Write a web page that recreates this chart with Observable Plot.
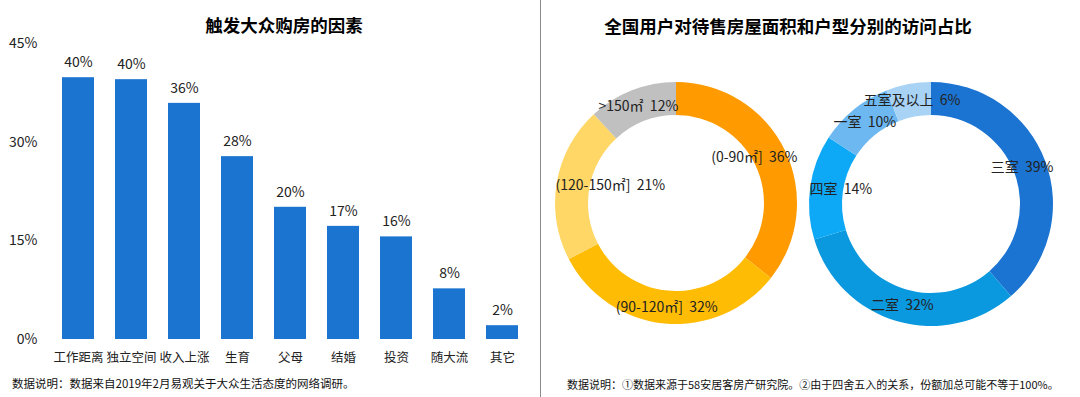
<!DOCTYPE html>
<html><head><meta charset="utf-8">
<script src="https://cdn.jsdelivr.net/npm/d3@7"></script>
<script src="https://cdn.jsdelivr.net/npm/@observablehq/plot@0.6"></script>
<style>
body{margin:0;background:#fff;font-family:"Noto Sans CJK SC","Noto Sans",sans-serif;}
#root{position:relative;width:1080px;height:397px;overflow:hidden;background:#fff;}
.abs{position:absolute;}
.title{font-weight:bold;font-size:17.5px;color:#000;white-space:nowrap;transform:translate(-50%,-50%);}
.foot{font-size:11px;color:#111;white-space:nowrap;transform:translateY(-50%);}
#divider{left:539.5px;top:0;width:1px;height:397px;background:#8a8a8a;}
</style></head><body>
<div id="root">
  <div id="bar" class="abs" style="left:0;top:30px"></div>
  <div id="d1" class="abs"></div>
  <div id="d2" class="abs"></div>
  <div class="abs title" style="left:284px;top:24px">触发大众购房的因素</div>
  <div class="abs title" style="left:788px;top:25px">全国用户对待售房屋面积和户型分别的访问占比</div>
  <div class="abs foot" style="left:12px;top:383px;font-size:11.5px">数据说明：数据来自2019年2月易观关于大众生活态度的网络调研。</div>
  <div class="abs foot" style="left:567px;top:384px">数据说明：①数据来源于58安居客房产研究院。②由于四舍五入的关系，份额加总可能不等于100%。</div>
  <div id="divider" class="abs"></div>
</div>
<script>
const factors = ["工作距离","独立空间","收入上涨","生育","父母","结婚","投资","随大流","其它"];
const factorValues = [39.8, 39.5, 35.9, 27.8, 20.1, 17.2, 15.6, 7.7, 2.1];
const yTicks = [0, 15, 30, 45];

const areaLabels = ["(0-90㎡]", "(90-120㎡]", "(120-150㎡]", ">150㎡"];
const areaValues = [36, 32, 21, 12];
const areaColors = ["#FF9B00", "#FFBC05", "#FFD766", "#C0C0C0"];

const roomLabels = ["三室", "二室", "四室", "一室", "五室及以上"];
const roomValues = [39, 32, 14, 10, 6];
const roomColors = ["#1B74D1", "#0A98DF", "#0EA9F6", "#6DB8F1", "#A8D3F5"];

const FONT = '"Noto Sans CJK SC","Noto Sans",sans-serif';

// Bar chart
const barData = factors.map((f, i) => ({f, v: factorValues[i]}));
const bar = Plot.plot({
  width: 540, height: 349,
  marginTop: 13, marginBottom: 40, marginLeft: 50, marginRight: 9.4,
  style: {fontFamily: FONT, fontSize: "14px", color: "#222", background: "transparent"},
  x: {domain: factors, paddingInner: 0.4, paddingOuter: 0.2, label: null},
  y: {domain: [0, 45], label: null},
  marks: [
    Plot.barY(barData, {x: "f", y: "v", fill: "#1B75D0"}),
    Plot.text(barData, {x: "f", y: "v", text: d => Math.round(d.v) + "%", dy: -15, fontSize: 14, fill: "#222"}),
    Plot.axisY({ticks: yTicks, tickSize: 0, tickPadding: 13, tickFormat: d => d + "%", fontSize: 14, label: null}),
    Plot.axisX({tickSize: 0, tickPadding: 14, fontSize: 12.5, label: null})
  ]
});
document.getElementById("bar").append(bar);

// Donuts
const canvas = document.createElement("canvas");
const ctx = canvas.getContext("2d");
ctx.font = `14px ${FONT}`;

function donut(labels, values, colors, R0, R1) {
  const size = 260, h = size / 2;
  const data = labels.map((l, i) => ({l, v: values[i], c: colors[i]}));
  const arcs = d3.pie().sort(null).value(d => d.v)(data);
  const mid = (R0 + R1) / 2;
  const labelData = arcs.map(a => {
    const ang = (a.startAngle + a.endAngle) / 2;
    let x = mid * Math.sin(ang), y = -mid * Math.cos(ang);
    const text = `${a.data.l}\u00a0\u00a0${a.data.v}%`;
    const w = ctx.measureText(text).width;
    const lim = R1 - w / 2;
    x = Math.max(-lim, Math.min(lim, x));
    return {x, y, text};
  });
  return Plot.plot({
    width: size, height: size, margin: 0,
    style: {fontFamily: FONT, fontSize: "14px", background: "transparent", overflow: "visible"},
    x: {domain: [-h, h], axis: null},
    y: {domain: [h, -h], axis: null},
    marks: [
      (index, scales) => {
        const sx = scales.x, sy = scales.y;
        const k = Math.abs(sx(1) - sx(0));
        const arc = d3.arc().innerRadius(R0 * k).outerRadius(R1 * k);
        const g = d3.create("svg:g").attr("transform", `translate(${sx(0)},${sy(0)})`);
        g.selectAll("path").data(arcs).join("path").attr("d", arc).attr("fill", d => d.data.c);
        return g.node();
      },
      Plot.text(labelData, {x: "x", y: "y", text: "text", fontSize: 14, fill: "#222"})
    ]
  });
}

const d1 = document.getElementById("d1");
d1.style.left = (676 - 130) + "px"; d1.style.top = (203 - 130) + "px";
d1.append(donut(areaLabels, areaValues, areaColors, 88, 121));
const d2 = document.getElementById("d2");
d2.style.left = (931 - 130) + "px"; d2.style.top = (204 - 130) + "px";
d2.append(donut(roomLabels, roomValues, roomColors, 89, 122));
</script>
</body></html>
